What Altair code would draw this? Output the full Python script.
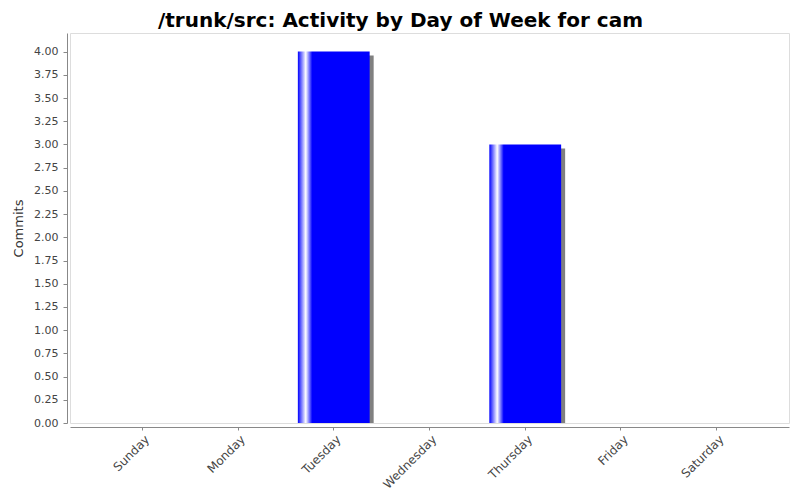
import altair as alt
import pandas as pd

days = ["Sunday", "Monday", "Tuesday", "Wednesday", "Thursday", "Friday", "Saturday"]
commits = [0, 0, 4, 0, 3, 0, 0]

df = pd.DataFrame({"day": days, "commits": commits})

xscale = alt.Scale(domain=days, paddingInner=0.25, paddingOuter=0.38)
yscale = alt.Scale(domain=[0, 4.2], nice=False, zero=True)

xenc = alt.X("day:N", sort=days, scale=xscale,
             axis=alt.Axis(title=None, labelAngle=-45, labelAlign="right", labelBaseline="middle",
                           labelFontSize=12, labelColor="#444444", labelFont="DejaVu Sans",
                           domainColor="#888888", tickColor="#888888", tickSize=3, offset=4,
                           labelPadding=7, labelOffset=5, grid=False))
yenc = alt.Y("commits:Q", scale=yscale,
             axis=alt.Axis(title="Commits", values=[i * 0.25 for i in range(17)], format=".2f",
                           labelFontSize=11, labelColor="#444444", labelFont="DejaVu Sans",
                           titleFontSize=13, titleColor="#333333", titleFont="DejaVu Sans",
                           titleFontWeight="normal", titlePadding=8,
                           domainColor="#888888", tickColor="#888888", tickSize=4, offset=3,
                           labelPadding=5, grid=False))

base = alt.Chart(df).transform_filter("datum.commits > 0")

shadow = base.mark_bar(color="#808080", xOffset=4, yOffset=4, clip=True).encode(
    x=xenc, y=yenc
)

grad = alt.Gradient(
    gradient="linear", x1=0, x2=1, y1=0, y2=0,
    stops=[
        alt.GradientStop(color="#0000ff", offset=0),
        alt.GradientStop(color="#ffffff", offset=0.11),
        alt.GradientStop(color="#0000ff", offset=0.2),
        alt.GradientStop(color="#0000ff", offset=1),
    ],
)
bars = base.mark_bar(color=grad).encode(x=xenc, y=yenc)

chart = alt.layer(shadow, bars).properties(
    width=719, height=390,
    title=alt.TitleParams("/trunk/src: Activity by Day of Week for cam", font="DejaVu Sans",
                          fontSize=20, fontWeight="bold", color="#000000",
                          anchor="middle", frame="group", dx=-29, offset=2),
    padding={"left": 62, "top": 25, "right": 3, "bottom": 70},
    autosize=alt.AutoSizeParams(type="none"),
).configure_view(stroke="#888888", strokeWidth=1, fill="#ffffff").configure(background="#ffffff")

chart.save("out.html", embed_options={"renderer": "svg", "actions": False})
